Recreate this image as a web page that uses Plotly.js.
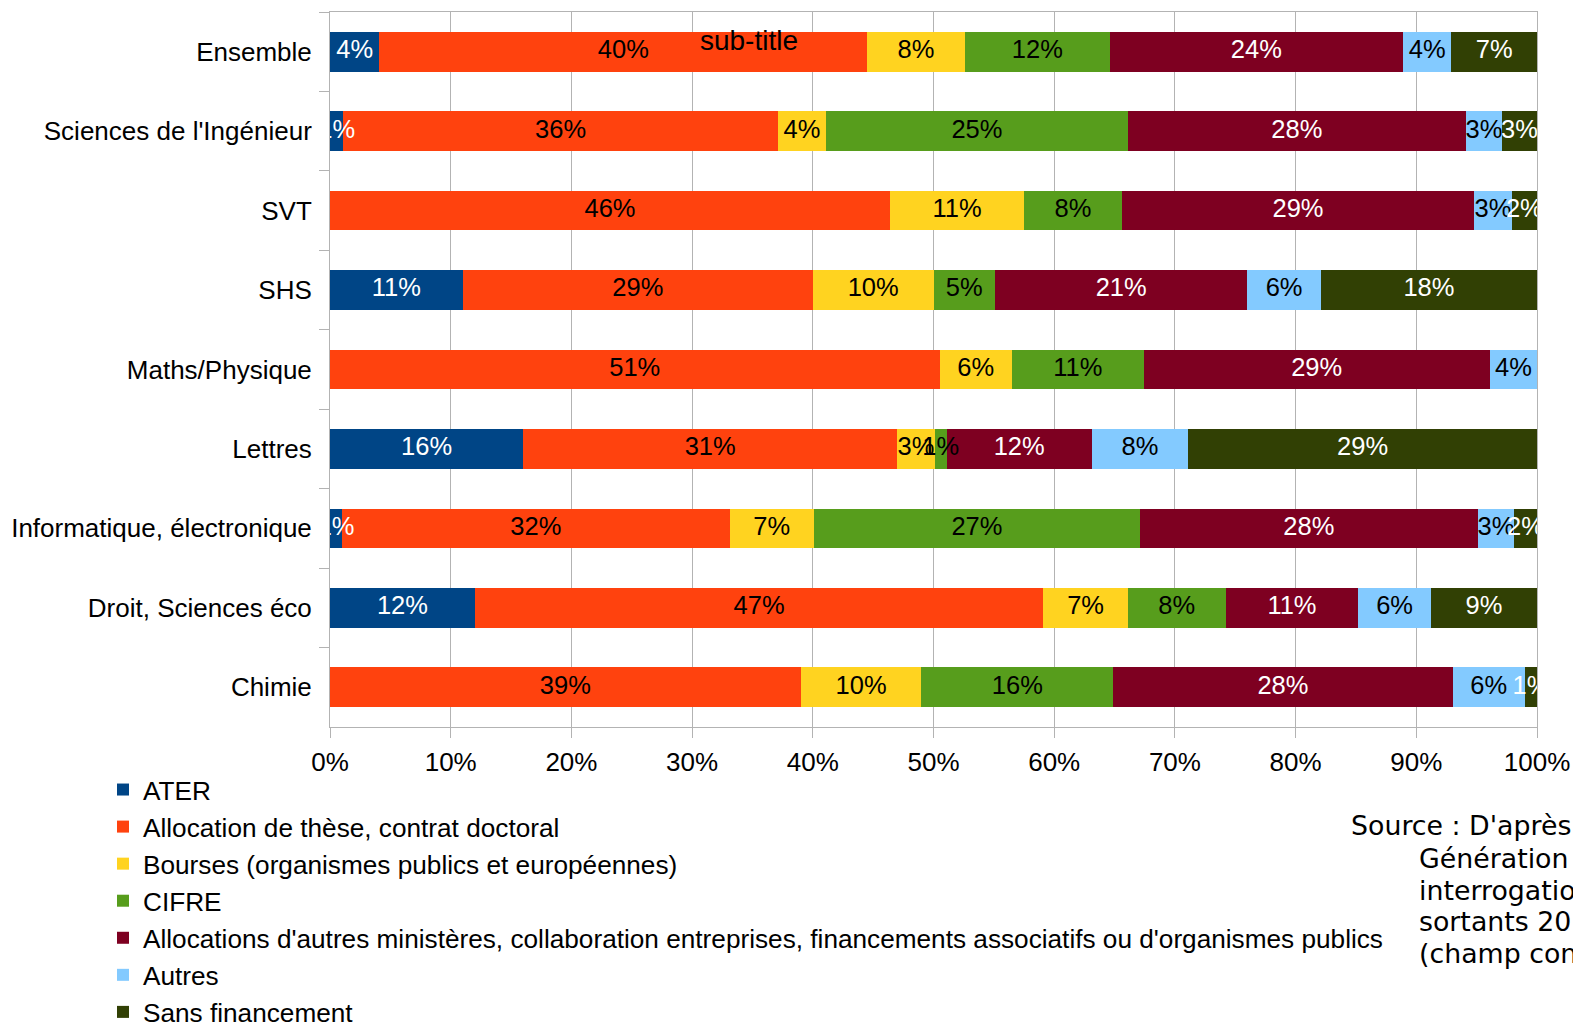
<!DOCTYPE html>
<html>
<head>
<meta charset="utf-8">
<script src="https://cdn.plot.ly/plotly-3.0.1.min.js"></script>
<style>html,body{margin:0;padding:0;background:#fff;overflow:hidden}#chart{width:1573px;height:1026px}</style>
</head>
<body>
<div id="chart"></div>
<script>
const categories = ["Ensemble", "Sciences de l'Ingénieur", "SVT", "SHS", "Maths/Physique", "Lettres", "Informatique, électronique", "Droit, Sciences éco", "Chimie"];
const seriesNames = ["ATER", "Allocation de thèse, contrat doctoral", "Bourses (organismes publics et européennes)", "CIFRE", "Allocations d'autres ministères, collaboration entreprises, financements associatifs ou d'organismes publics", "Autres", "Sans financement"];
const ater      = [4.1, 1.1, 0, 11.0, 0, 16.0, 1.0, 12.0, 0];
const allocation = [40.4, 36.0, 46.4, 29.0, 50.5, 31.0, 32.1, 47.1, 39.0];
const bourses   = [8.1, 4.0, 11.1, 10.0, 6.0, 3.1, 7.0, 7.0, 10.0];
const cifre     = [12.0, 25.0, 8.1, 5.1, 10.9, 1.0, 27.0, 8.1, 15.9];
const autresMin = [24.3, 28.0, 29.2, 20.9, 28.7, 12.0, 28.0, 11.0, 28.1];
const autres    = [4.0, 3.0, 3.1, 6.1, 3.9, 8.0, 3.0, 6.0, 6.0];
const sansFin   = [7.1, 2.9, 2.1, 17.9, 0, 28.9, 1.9, 8.8, 1.0];
const xTicks = [0, 10, 20, 30, 40, 50, 60, 70, 80, 90, 100];
const xTickText = ["0%", "10%", "20%", "30%", "40%", "50%", "60%", "70%", "80%", "90%", "100%"];
const sourceLines = ["Source : D'après", "Génération", "interrogation", "sortants 20", "(champ con"];

const series = [ater, allocation, bourses, cifre, autresMin, autres, sansFin];
const colors = ["#004586", "#ff420e", "#ffd320", "#579d1c", "#7e0021", "#83caff", "#314004"];
const labelColors = ["#ffffff", "#000000", "#000000", "#000000", "#ffffff", "#000000", "#ffffff"];
const FONT = "Liberation Sans, Arial, sans-serif";
const FS = 26;

const traces = [];
series.forEach((vals, i) => {
  traces.push({
    type: "bar", orientation: "h", name: seriesNames[i],
    x: vals, y: categories, width: 0.5,
    marker: {color: colors[i], line: {width: 0}},
    hoverinfo: "x+name"
  });
});
// labels drawn on top of all bars
const cum = categories.map(() => 0);
series.forEach((vals, i) => {
  const xs = [], ys = [], ts = [];
  vals.forEach((v, j) => {
    if (v > 0) { xs.push(cum[j] + v / 2); ys.push(categories[j]); ts.push(Math.round(v) + "%"); }
    cum[j] += v;
  });
  traces.push({
    type: "scatter", mode: "text", x: xs, y: ys, text: ts,
    textposition: "middle center",
    textfont: {family: FONT, size: 25.5, color: labelColors[i]},
    showlegend: false, hoverinfo: "skip", cliponaxis: true
  });
});

const L = 330, R = 36, T = 12, B = 299;
const W = 1573, H = 1026;
const pw = W - L - R, ph = H - T - B;
const px2x = p => (p - L) / pw;
const py2y = p => (H - B - p) / ph;

const srcX = [1350, 1418, 1418, 1418, 1418];
const srcY = [825, 858, 890, 921, 953];
const annotations = sourceLines.map((t, k) => ({
  xref: "paper", yref: "paper", x: px2x(srcX[k]), y: py2y(srcY[k]), xanchor: "left", yanchor: "middle",
  text: t, showarrow: false, align: "left", borderpad: 0,
  font: {family: "DejaVu Sans, Verdana, sans-serif", size: 26.8, color: "#000"}
}));

const layout = {
  width: W, height: H,
  margin: {l: L, r: R, t: T, b: B, pad: 0, autoexpand: false},
  paper_bgcolor: "#ffffff", plot_bgcolor: "#ffffff",
  barmode: "stack",
  font: {family: FONT, size: FS, color: "#000"},
  title: {text: "sub-title", font: {family: FONT, size: 28, color: "#000"},
          xref: "paper", x: px2x(749), xanchor: "center", yref: "paper", y: py2y(40), yanchor: "middle", automargin: false},
  xaxis: {
    range: [0, 100], tickmode: "array", tickvals: xTicks, ticktext: xTickText,
    showgrid: true, gridcolor: "#b3b3b3", gridwidth: 1,
    showline: true, linecolor: "#b3b3b3", linewidth: 1, mirror: true,
    ticks: "outside", ticklen: 10, tickcolor: "#b3b3b3",
    tickfont: {family: FONT, size: FS, color: "#000"},
    zeroline: false, fixedrange: true, ticklabelstandoff: 2, automargin: false
  },
  yaxis: {
    type: "category", categoryorder: "array", categoryarray: categories,
    autorange: false, range: [8.5, -0.5],
    showgrid: false, showline: true, linecolor: "#b3b3b3", linewidth: 1, mirror: true,
    ticks: "outside", ticklen: 10, tickcolor: "#b3b3b3", tickson: "boundaries",
    tickfont: {family: FONT, size: FS, color: "#000"},
    ticklabelstandoff: 12, zeroline: false, fixedrange: true, automargin: false
  },
  showlegend: true,
  legend: {
    orientation: "v", traceorder: "normal",
    x: px2x(103), xanchor: "left", y: py2y(766), yanchor: "top",
    font: {family: FONT, size: 26.2, color: "#000"},
    bgcolor: "rgba(0,0,0,0)", borderwidth: 0, itemclick: false, itemdoubleclick: false
  },
  annotations: annotations
};

Plotly.newPlot("chart", traces, layout, {displayModeBar: false, staticPlot: true});
</script>
</body>
</html>
